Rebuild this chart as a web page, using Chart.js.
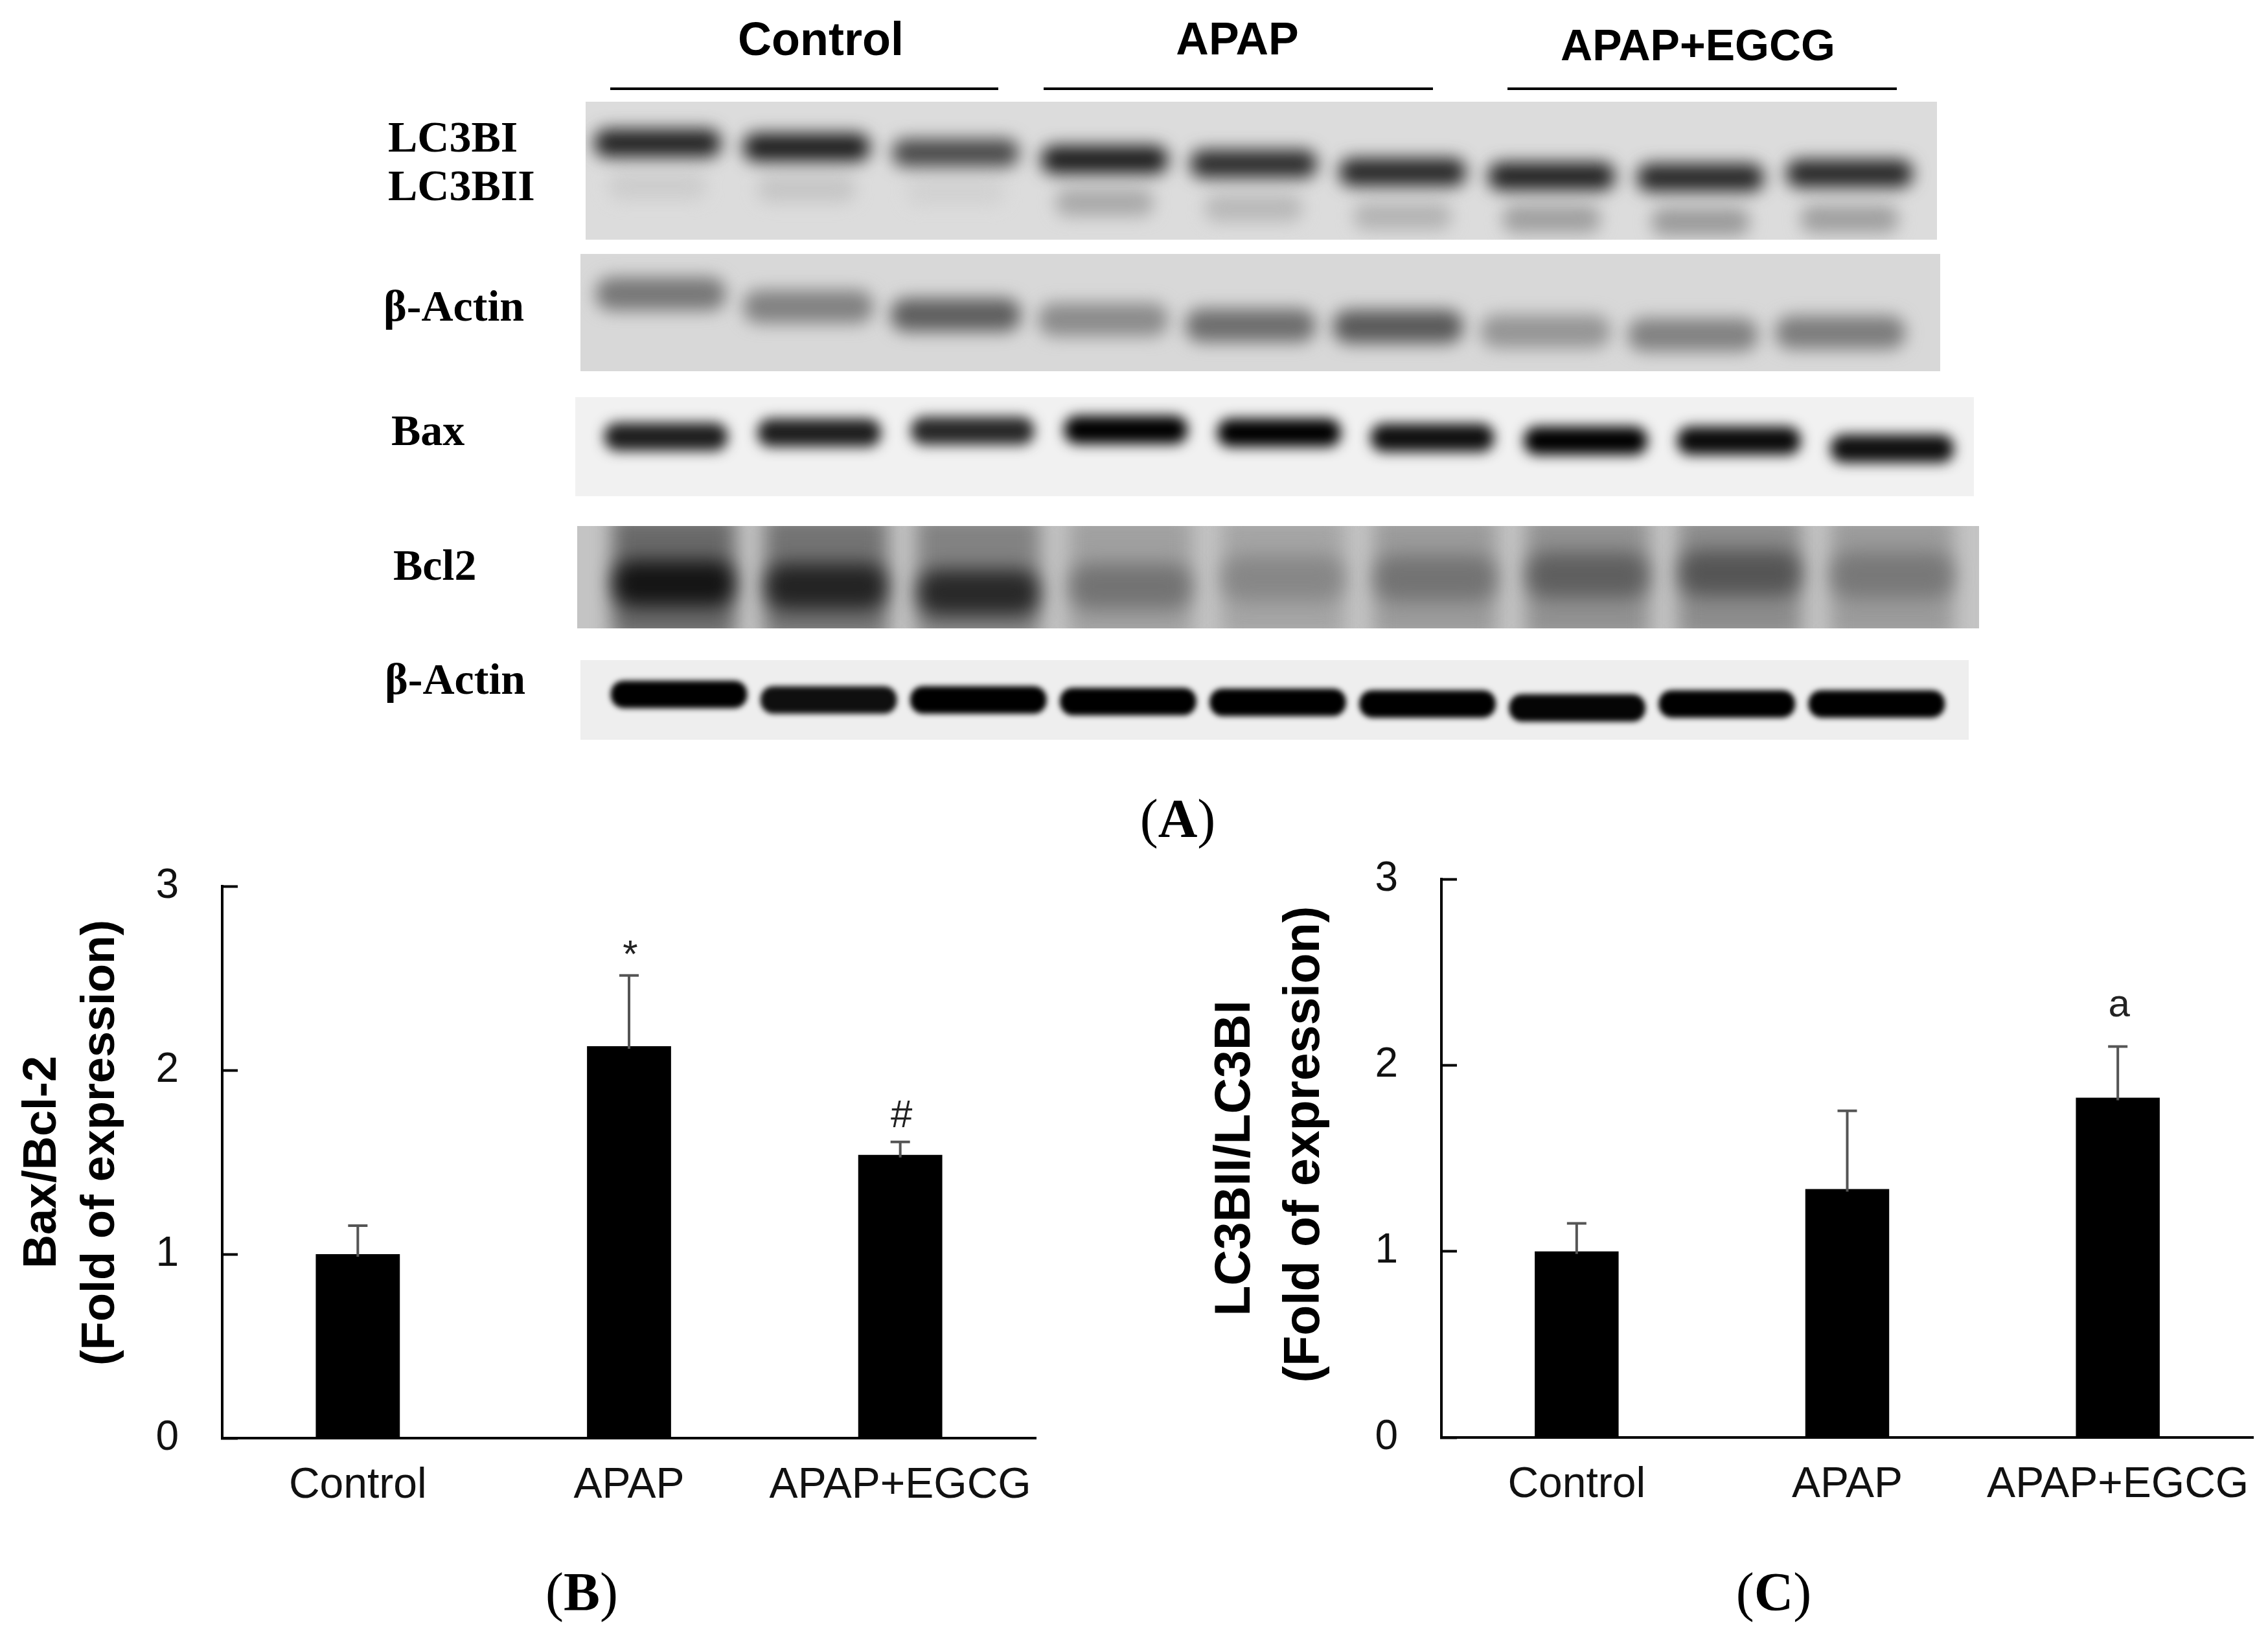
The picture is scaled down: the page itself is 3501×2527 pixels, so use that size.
<!DOCTYPE html>
<html><head><meta charset="utf-8">
<style>
html,body{margin:0;padding:0;background:#fff;width:3501px;height:2527px;overflow:hidden}
canvas{position:absolute;display:block}
.t{position:absolute;white-space:nowrap;transform:translate(-50%,-50%);color:#000;line-height:1}
.serif{font-family:"Liberation Serif",serif;font-weight:bold;font-size:68px;transform:translate(0,-50%)}
.head{font-family:"Liberation Sans",sans-serif;font-weight:bold;font-size:70px}
.panel{font-family:"Liberation Serif",serif;font-size:84px}
.panel b{font-weight:bold}
.rule{position:absolute;height:4px;background:#000}
</style></head><body>
<script src="https://cdn.jsdelivr.net/npm/chart.js@4/dist/chart.umd.min.js"></script>
<script>
// ---- bar panels ----
const categories = ["Control", "APAP", "APAP+EGCG"];
const yTicks = [0, 1, 2, 3];
const baxBcl2Values = [1.0, 2.13, 1.54];
const baxBcl2ErrorTops = [1.155, 2.515, 1.61];
const baxBcl2Notes = ["", "*", "#"];
const lc3bValues = [1.0, 1.335, 1.825];
const lc3bErrorTops = [1.15, 1.755, 2.10];
const lc3bNotes = ["", "", "a"];

// ---- blot bands: position down the strip (percent) and grey level per lane ----
const lc3bIPos = [30, 33, 37, 42, 45, 51, 54, 55, 52];
const lc3bIGrey = [35, 30, 75, 30, 45, 40, 35, 40, 40];
const lc3bIIPos = [61, 63, 65, 73, 77, 83, 85, 87, 85];
const lc3bIIGrey = [205, 198, 210, 170, 185, 180, 160, 155, 160];
const actinAPos = [34, 45, 52, 56, 61, 62, 66, 69, 67];
const actinAGrey = [120, 130, 95, 140, 110, 90, 150, 130, 125];
const baxPos = [40, 36, 34, 33, 36, 41, 44, 44, 52];
const baxGrey = [30, 30, 40, 0, 0, 15, 0, 10, 15];
const bcl2Pos = [56, 59, 65, 59, 51, 51, 48, 46, 48];
const bcl2Grey = [20, 35, 40, 115, 135, 115, 95, 85, 120];
const bcl2SmearPos = [50, 50, 50, 50, 50, 50, 50, 50, 50];
const bcl2Smear = [105, 115, 130, 160, 165, 155, 145, 140, 155];
const actinBPos = [43, 50, 50, 52, 53, 55, 60, 55, 55];
const actinBGrey = [0, 15, 0, 0, 0, 0, 5, 0, 0];

Chart.defaults.font.family = '"Liberation Sans", sans-serif';
Chart.defaults.devicePixelRatio = 1;
Chart.defaults.animation = false;

function addCanvas(left, top, w, h, bg) {
  const c = document.createElement('canvas');
  c.width = w; c.height = h;
  c.style.left = left + 'px'; c.style.top = top + 'px';
  c.style.width = w + 'px'; c.style.height = h + 'px';
  if (bg) c.style.background = bg;
  document.body.appendChild(c);
  return c;
}

const errorBars = {
  id: 'errorBars',
  afterDatasetsDraw(chart, _a, o) {
    const { ctx, scales: { x, y } } = chart;
    ctx.save();
    ctx.strokeStyle = '#555'; ctx.lineWidth = 4;
    o.tops.forEach((top, i) => {
      const px = x.getPixelForValue(i), py = y.getPixelForValue(top), p0 = y.getPixelForValue(o.values[i]);
      ctx.beginPath();
      ctx.moveTo(px, p0 + 4); ctx.lineTo(px, py);
      ctx.moveTo(px - 15, py); ctx.lineTo(px + 15, py);
      ctx.stroke();
    });
    ctx.fillStyle = '#222'; ctx.textAlign = 'center'; ctx.textBaseline = 'alphabetic';
    o.notes.forEach((n, i) => {
      if (!n) return;
      ctx.font = o.noteFont;
      ctx.fillText(n, x.getPixelForValue(i) + 2, y.getPixelForValue(o.tops[i]) - o.lifts[i]);
    });
    ctx.restore();
  }
};

function barPanel(cfg) {
  const c = addCanvas(cfg.left, cfg.top, cfg.w, cfg.h);
  new Chart(c, {
    type: 'bar',
    data: { labels: categories, datasets: [{ data: cfg.values, backgroundColor: '#000', barPercentage: 0.31, categoryPercentage: 1 }] },
    plugins: [errorBars],
    options: {
      responsive: false,
      layout: { padding: { top: cfg.padTop, right: cfg.padRight, left: 0, bottom: 0 } },
      plugins: {
        legend: { display: false }, tooltip: { enabled: false },
        errorBars: { values: cfg.values, tops: cfg.tops, notes: cfg.notes, lifts: cfg.lifts, noteFont: '60px "Liberation Sans"' }
      },
      scales: {
        x: {
          grid: { display: false }, border: { display: true, color: '#000', width: 4 },
          ticks: { color: '#111', font: { size: cfg.xFont }, padding: 26, maxRotation: 0, autoSkip: false },
          afterFit(s) { s.height = cfg.axisH; s.paddingLeft = 0; s.paddingRight = 0; }
        },
        y: {
          min: 0, max: 3,
          afterBuildTicks(s) { s.ticks = yTicks.map(v => ({ value: v })); },
          grid: { drawOnChartArea: false, drawTicks: true, tickLength: -24, tickWidth: 4, tickColor: '#000' },
          border: { display: true, color: '#000', width: 4 },
          ticks: { color: '#111', font: { size: 64 }, padding: 91 },
          title: {
            display: true, text: cfg.title, color: '#000',
            font: { size: cfg.titleFont, weight: 'bold', lineHeight: cfg.titleLH },
            padding: { top: cfg.titlePad, bottom: 0 }
          },
          afterFit(s) { s.width = cfg.axisW; s.paddingTop = 0; s.paddingBottom = 0; }
        }
      }
    }
  });
}

barPanel({ left: 0, top: 1300, w: 1700, h: 1100, values: baxBcl2Values, tops: baxBcl2ErrorTops, notes: baxBcl2Notes,
  lifts: [0, 13, 23], padTop: 68, padRight: 101, axisW: 343, axisH: 180, xFont: 66,
  title: ["Bax/Bcl-2", "\u00A0\u00A0\u00A0(Fold of expression)"], titleFont: 72, titleLH: 1.24, titlePad: 22 });
barPanel({ left: 1800, top: 1300, w: 1701, h: 1100, values: lc3bValues, tops: lc3bErrorTops, notes: lc3bNotes,
  lifts: [0, 0, 47], padTop: 57, padRight: 23, axisW: 425, axisH: 181, xFont: 66,
  title: ["LC3BII/LC3BI", "\u00A0\u00A0(Fold of expression)"], titleFont: 77, titleLH: 1.39, titlePad: 54 });

// ---- blot strips: floating bars on a lane scale, softened with a blur ----
const bandBlur = {
  id: 'bandBlur',
  beforeDatasetsDraw(chart, _a, o) { chart.ctx.filter = 'blur(' + o.px + 'px)'; },
  afterDatasetsDraw(chart) { chart.ctx.filter = 'none'; }
};
function strip(s) {
  const c = addCanvas(s.left, s.top, s.w, s.h, s.bg);
  const grey = g => 'rgb(' + g + ',' + g + ',' + g + ')';
  new Chart(c, {
    type: 'bar',
    data: {
      datasets: s.bands.map(b => ({
        data: b.pos.map((p, i) => ({ x: i, y: [p - b.half, p + b.half] })),
        backgroundColor: b.grey.map(grey),
        barThickness: b.thick, borderRadius: b.radius, borderSkipped: false, grouped: false
      }))
    },
    plugins: [bandBlur],
    options: {
      responsive: false,
      layout: { padding: 0 },
      plugins: { legend: { display: false }, tooltip: { enabled: false }, bandBlur: { px: s.blur } },
      scales: {
        x: { type: 'linear', display: false, min: s.xMin, max: s.xMax, offset: false },
        y: { display: false, min: 0, max: 100, reverse: true }
      }
    }
  });
}
strip({ left: 904, top: 157, w: 2086, h: 213, bg: '#dcdcdc', blur: 13, xMin: -0.483, xMax: 8.587,
  bands: [{ pos: lc3bIPos, grey: lc3bIGrey, half: 10, thick: 195, radius: 20 },
          { pos: lc3bIIPos, grey: lc3bIIGrey, half: 10, thick: 150, radius: 18 }] });
strip({ left: 896, top: 392, w: 2099, h: 181, bg: '#d8d8d8', blur: 13, xMin: -0.545, xMax: 8.677,
  bands: [{ pos: actinAPos, grey: actinAGrey, half: 14, thick: 200, radius: 24 }] });
strip({ left: 888, top: 613, w: 2159, h: 153, bg: '#f1f1f1', blur: 10, xMin: -0.592, xMax: 8.533,
  bands: [{ pos: baxPos, grey: baxGrey, half: 14, thick: 190, radius: 20 }] });
strip({ left: 891, top: 812, w: 2164, h: 158, bg: '#c4c4c4', blur: 15, xMin: -0.634, xMax: 8.57,
  bands: [{ pos: bcl2Pos, grey: bcl2Grey, half: 22, thick: 185, radius: 28 },
          { pos: bcl2SmearPos, grey: bcl2Smear, half: 60, thick: 190, radius: 0 }] });
strip({ left: 896, top: 1019, w: 2143, h: 123, bg: '#eeeeee', blur: 4, xMin: -0.658, xMax: 8.615,
  bands: [{ pos: actinBPos, grey: actinBGrey, half: 17, thick: 210, radius: 20 }] });

// ---- panel text ----
function txt(s, cls, x, y, size) {
  const d = document.createElement('div');
  d.className = 't ' + cls; d.innerHTML = s;
  d.style.left = x + 'px'; d.style.top = y + 'px';
  if (size) d.style.fontSize = size + 'px';
  document.body.appendChild(d);
}
txt('Control', 'head', 1267, 60, 72);
txt('APAP', 'head', 1910, 60, 70);
txt('APAP+EGCG', 'head', 2621, 69, 68);
[[942, 1541], [1611, 2212], [2327, 2928]].forEach(([a, b]) => {
  const r = document.createElement('div');
  r.className = 'rule';
  r.style.left = a + 'px'; r.style.width = (b - a) + 'px'; r.style.top = '135px';
  document.body.appendChild(r);
});
txt('LC3BI', 'serif', 599, 211);
txt('LC3BII', 'serif', 599, 286);
txt('β-Actin', 'serif', 592, 472);
txt('Bax', 'serif', 604, 664);
txt('Bcl2', 'serif', 607, 872);
txt('β-Actin', 'serif', 594, 1048);
txt('(<b>A</b>)', 'panel', 1818, 1264);
txt('(<b>B</b>)', 'panel', 898, 2458);
txt('(<b>C</b>)', 'panel', 2738, 2458);
</script>
</body></html>
